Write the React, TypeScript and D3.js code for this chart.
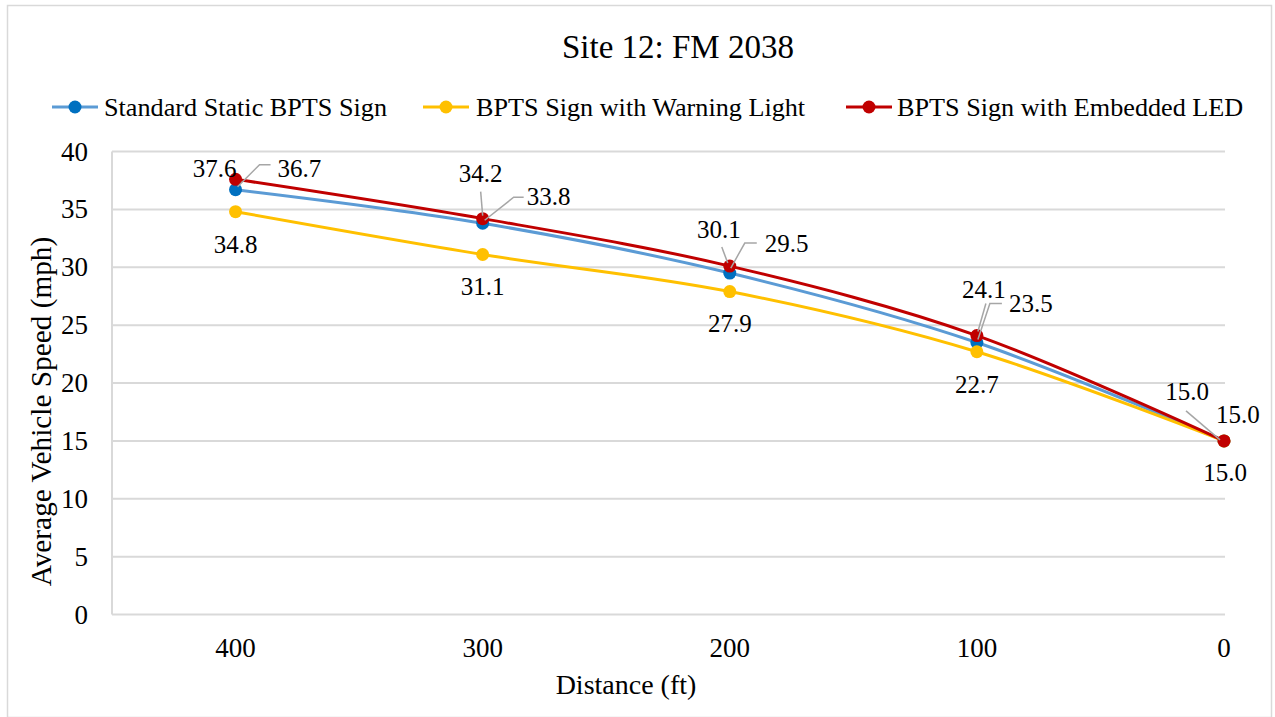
import React from "react";
import * as d3 from "d3";

const distances = [400, 300, 200, 100, 0];
const standardStatic = [36.7, 33.8, 29.5, 23.5, 15.0];
const warningLight = [34.8, 31.1, 27.9, 22.7, 15.0];
const embeddedLED = [37.6, 34.2, 30.1, 24.1, 15.0];
const xTicks = [400, 300, 200, 100, 0];
const yTicks = [0, 5, 10, 15, 20, 25, 30, 35, 40];
const seriesNames = [
  "Standard Static BPTS Sign",
  "BPTS Sign with Warning Light",
  "BPTS Sign with Embedded LED",
];

// label placement (pixel offsets from the point), separate from data
type LabelPos = { dx: number; dy: number; anchor: string; leader?: [number, number][] };
const blueLabels: LabelPos[] = [
  { dx: 42, dy: -13, anchor: "start", leader: [[2, -3], [24, -25], [35, -25]] },
  { dx: 44, dy: -18, anchor: "start", leader: [[2, -3], [31, -26], [41, -26]] },
  { dx: 35, dy: -21, anchor: "start", leader: [[1, -5], [15, -30], [27, -30]] },
  { dx: 32, dy: -30, anchor: "start", leader: [[1, -3], [13, -39], [25, -39]] },
  { dx: -8, dy: -18, anchor: "start" },
];
const yellowLabels: LabelPos[] = [
  { dx: 0, dy: 41, anchor: "middle" },
  { dx: 0, dy: 40, anchor: "middle" },
  { dx: 0, dy: 40, anchor: "middle" },
  { dx: 0, dy: 41, anchor: "middle" },
  { dx: 1, dy: 40, anchor: "middle" },
];
const redLabels: LabelPos[] = [
  { dx: 1, dy: -2, anchor: "end" },
  { dx: -2, dy: -37, anchor: "middle", leader: [[0, -3], [-2, -27]] },
  { dx: -11, dy: -28, anchor: "middle", leader: [[-2, -3], [-8, -19]] },
  { dx: 7, dy: -38, anchor: "middle", leader: [[1, -4], [9, -32]] },
  { dx: -37, dy: -41, anchor: "middle", leader: [[-4, -1], [-38, -30]] },
];

const W = 1275;
const H = 717;
const left = 112;
const right = 1224;
const top = 151.5;
const bottom = 614.5;
const FONT = "Liberation Serif, DejaVu Serif, serif";

export default function App() {
  const x = d3.scaleLinear().domain([450, 0]).range([left, right]);
  const y = d3.scaleLinear().domain([0, 40]).range([bottom, top]);
  const line = d3
    .line<number>()
    .x((_, i) => x(distances[i]))
    .y((v) => y(v))
    .curve(d3.curveCatmullRom.alpha(0));

  const series = [
    { name: seriesNames[0], values: standardStatic, line: "#5B9BD5", marker: "#0070C0", labels: blueLabels },
    { name: seriesNames[1], values: warningLight, line: "#FFC000", marker: "#FFC000", labels: yellowLabels },
    { name: seriesNames[2], values: embeddedLED, line: "#C00000", marker: "#C00000", labels: redLabels },
  ];

  const legendItems = [
    { x0: 52, textX: 104 },
    { x0: 423, textX: 476 },
    { x0: 846, textX: 897 },
  ];

  const T = { fontFamily: FONT };

  return (
    <svg
      width={W}
      height={H}
      style={{ position: "absolute", left: 0, top: 0, background: "#fff", fontFamily: FONT }}
    >
      <rect x={0} y={0} width={W} height={H} fill="#fff" />
      <rect x={7.5} y={5.5} width={1264} height={712} fill="none" stroke="#D9D9D9" strokeWidth={1.5} />

      <text x={678} y={58} textAnchor="middle" fontSize={33} fill="#000" style={T}>
        Site 12: FM 2038
      </text>

      {/* legend */}
      {series.map((s, i) => (
        <g key={s.name}>
          <line x1={legendItems[i].x0} x2={legendItems[i].x0 + 46} y1={107} y2={107} stroke={s.line} strokeWidth={3} />
          <circle cx={legendItems[i].x0 + 23} cy={107} r={6.5} fill={s.marker} />
          <text x={legendItems[i].textX} y={116} fontSize={26.2} fill="#000" style={T}>
            {s.name}
          </text>
        </g>
      ))}

      {/* gridlines */}
      {yTicks.map((t) => (
        <line key={t} x1={left} x2={right + 1} y1={y(t)} y2={y(t)} stroke="#D9D9D9" strokeWidth={2} />
      ))}
      <line x1={left} x2={left} y1={top} y2={bottom} stroke="#D9D9D9" strokeWidth={2} />

      {/* y tick labels */}
      {yTicks.map((t) => (
        <text key={t} x={88} y={y(t) + 9} textAnchor="end" fontSize={27} fill="#000" style={T}>
          {t}
        </text>
      ))}
      {/* x tick labels */}
      {xTicks.map((t) => (
        <text key={t} x={x(t)} y={657} textAnchor="middle" fontSize={27} fill="#000" style={T}>
          {t}
        </text>
      ))}

      {/* axis titles */}
      <text x={626} y={694} textAnchor="middle" fontSize={28} fill="#000" style={T}>
        Distance (ft)
      </text>
      <text
        transform={`translate(51, 411.5) rotate(-90)`}
        textAnchor="middle"
        fontSize={29.3}
        fill="#000"
        style={T}
      >
        Average Vehicle Speed (mph)
      </text>

      {/* series lines */}
      {series.map((s) => (
        <g key={s.name}>
          <path d={line(s.values) || ""} fill="none" stroke={s.line} strokeWidth={3} />
          {s.values.map((v, i) => (
            <circle key={i} cx={x(distances[i])} cy={y(v)} r={6.5} fill={s.marker} />
          ))}
        </g>
      ))}

      {/* leader lines */}
      {series.map((s) =>
        s.values.map((v, i) => {
          const lp = s.labels[i];
          if (!lp.leader) return null;
          const px = x(distances[i]);
          const py = y(v);
          const pts = lp.leader.map(([dx, dy]) => `${px + dx},${py + dy}`).join(" ");
          return <polyline key={s.name + i} points={pts} fill="none" stroke="#A6A6A6" strokeWidth={1.5} />;
        })
      )}

      {/* data labels */}
      {series.map((s) =>
        s.values.map((v, i) => {
          const lp = s.labels[i];
          return (
            <text
              key={s.name + "l" + i}
              x={x(distances[i]) + lp.dx}
              y={y(v) + lp.dy}
              textAnchor={lp.anchor}
              fontSize={25}
              fill="#000"
              style={T}
            >
              {v.toFixed(1)}
            </text>
          );
        })
      )}
    </svg>
  );
}
